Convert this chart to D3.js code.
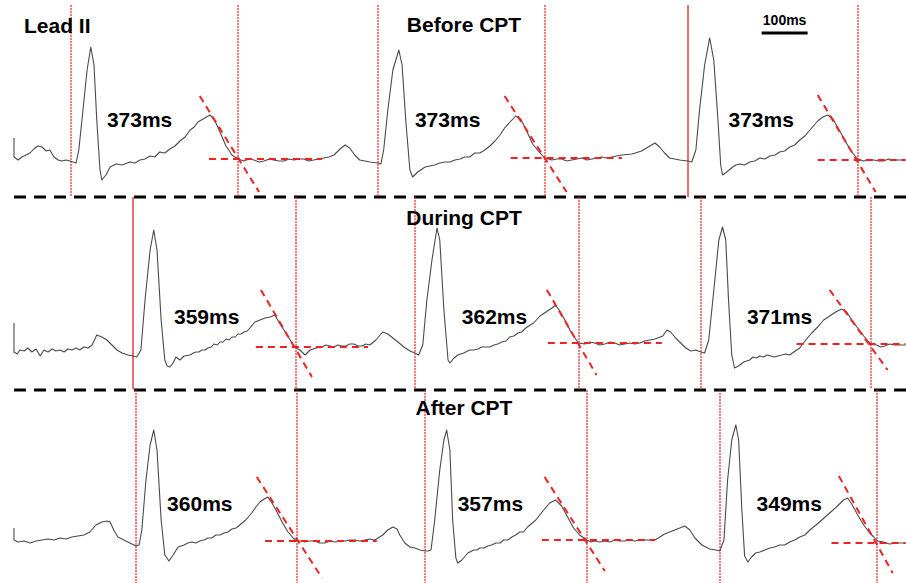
<!DOCTYPE html>
<html>
<head>
<meta charset="utf-8">
<script src="https://cdn.jsdelivr.net/npm/d3@7"></script>
<style>
  body { margin: 0; background: #fff; }
  text { font-family: "Liberation Sans", Arial, sans-serif; font-weight: bold; fill: #000; }
</style>
</head>
<body>
<div id="chart"></div>
<script>
var svgWidth = 906;
var svgHeight = 583;

// ECG traces, lead II: [time ms, amplitude mV]
var beforeTrace = [[0,0.22],[0,0.03],[9,0.00],[17,0.03],[26,0.05],[35,0.07],[43,0.11],[52,0.14],[61,0.13],[70,0.09],[78,0.10],[87,0.03],[96,0.00],[104,-0.01],[113,0.00],[122,-0.01],[128,-0.02],[135,-0.03],[141,0.10],[150,0.50],[159,0.90],[167,1.13],[174,0.95],[180,0.40],[187,-0.10],[191,-0.20],[200,-0.15],[209,-0.07],[222,-0.04],[235,-0.05],[252,-0.02],[263,-0.03],[274,0.00],[285,0.01],[296,0.04],[306,0.03],[317,0.08],[328,0.07],[339,0.11],[350,0.14],[361,0.19],[372,0.23],[383,0.30],[392,0.33],[400,0.38],[415,0.42],[426,0.45],[435,0.41],[448,0.28],[461,0.14],[474,0.05],[487,0.01],[500,-0.01],[511,0.01],[522,0.00],[533,-0.02],[544,-0.01],[555,0.01],[565,0.00],[576,-0.01],[587,-0.01],[598,0.01],[609,0.00],[620,0.01],[630,0.01],[641,-0.01],[652,0.00],[663,0.01],[674,0.02],[685,0.03],[696,0.05],[709,0.11],[720,0.15],[730,0.12],[741,0.05],[752,0.00],[763,-0.01],[774,-0.02],[791,-0.03],[798,-0.04],[804,0.10],[813,0.50],[824,0.90],[837,1.10],[844,0.95],[852,0.40],[861,-0.10],[867,-0.17],[878,-0.12],[894,-0.07],[904,-0.06],[915,-0.05],[926,-0.03],[937,-0.02],[948,-0.02],[959,0.00],[970,0.01],[980,0.03],[991,0.03],[1002,0.07],[1013,0.07],[1024,0.10],[1035,0.14],[1046,0.19],[1057,0.25],[1067,0.32],[1083,0.40],[1091,0.44],[1102,0.41],[1115,0.29],[1128,0.16],[1144,0.07],[1154,0.02],[1170,0.00],[1180,0.01],[1191,0.01],[1202,-0.01],[1213,0.00],[1224,0.01],[1235,0.02],[1246,0.00],[1257,0.01],[1268,0.02],[1278,0.03],[1289,0.02],[1300,0.03],[1311,0.04],[1322,0.05],[1344,0.06],[1365,0.09],[1383,0.14],[1394,0.17],[1404,0.13],[1415,0.07],[1426,0.02],[1437,0.01],[1448,0.00],[1465,-0.01],[1474,-0.02],[1483,0.10],[1491,0.50],[1502,0.95],[1513,1.22],[1522,1.00],[1531,0.40],[1537,-0.05],[1541,-0.15],[1550,-0.12],[1563,-0.07],[1570,-0.05],[1578,-0.04],[1589,-0.05],[1600,-0.02],[1611,-0.01],[1622,0.02],[1633,0.01],[1644,0.04],[1655,0.05],[1665,0.08],[1676,0.09],[1687,0.13],[1698,0.15],[1709,0.20],[1720,0.24],[1731,0.30],[1748,0.39],[1759,0.43],[1770,0.45],[1781,0.41],[1796,0.29],[1809,0.18],[1822,0.08],[1835,0.01],[1848,-0.01],[1859,0.00],[1870,0.00],[1880,-0.01],[1891,-0.01],[1902,0.01],[1913,0.00],[1939,0.00]];

var duringTrace = [[0,0.24],[0,-0.05],[7,-0.07],[13,-0.03],[22,-0.04],[30,-0.01],[39,-0.05],[48,-0.02],[57,-0.09],[65,-0.03],[74,-0.05],[83,-0.02],[91,-0.04],[100,-0.03],[109,-0.05],[117,-0.02],[126,-0.03],[135,-0.01],[143,-0.03],[152,0.00],[161,-0.01],[170,0.02],[180,0.12],[191,0.10],[202,0.07],[213,0.02],[224,-0.03],[235,-0.06],[248,-0.08],[259,-0.09],[267,-0.10],[276,-0.03],[285,0.47],[296,0.97],[304,1.17],[311,0.97],[320,0.27],[328,-0.13],[333,-0.19],[339,-0.20],[346,-0.16],[352,-0.10],[361,-0.13],[370,-0.09],[383,-0.08],[390,-0.06],[396,-0.05],[402,-0.05],[409,-0.03],[416,-0.03],[422,-0.01],[429,0.00],[435,0.03],[442,0.02],[448,0.05],[455,0.05],[461,0.08],[468,0.07],[474,0.10],[481,0.10],[487,0.13],[494,0.13],[500,0.15],[507,0.16],[513,0.19],[524,0.25],[535,0.27],[546,0.29],[557,0.30],[567,0.32],[576,0.25],[587,0.17],[598,0.09],[607,0.02],[613,-0.01],[622,-0.03],[633,-0.08],[644,-0.03],[657,-0.01],[670,0.00],[678,0.02],[687,0.01],[696,0.00],[704,0.02],[713,0.01],[722,0.01],[730,0.03],[739,0.03],[748,0.01],[757,0.01],[765,0.03],[774,0.02],[787,0.07],[802,0.15],[813,0.13],[824,0.09],[835,0.05],[848,0.00],[861,-0.04],[872,-0.06],[880,-0.08],[889,0.02],[898,0.47],[909,0.87],[920,1.19],[926,1.07],[935,0.37],[944,-0.13],[948,-0.16],[957,-0.11],[965,-0.08],[978,-0.06],[991,-0.03],[1000,-0.03],[1009,-0.02],[1017,0.00],[1026,0.00],[1035,0.00],[1044,0.02],[1052,0.03],[1061,0.05],[1070,0.06],[1078,0.10],[1087,0.11],[1096,0.14],[1104,0.15],[1113,0.19],[1130,0.24],[1144,0.31],[1157,0.35],[1170,0.39],[1178,0.42],[1187,0.36],[1198,0.27],[1209,0.17],[1220,0.09],[1228,0.04],[1241,0.03],[1252,0.05],[1263,0.04],[1274,0.02],[1285,0.03],[1296,0.05],[1307,0.04],[1317,0.02],[1328,0.03],[1339,0.04],[1350,0.03],[1361,0.04],[1372,0.06],[1394,0.08],[1411,0.11],[1420,0.17],[1428,0.15],[1439,0.09],[1450,0.04],[1461,-0.01],[1472,-0.04],[1483,-0.03],[1494,-0.05],[1502,-0.06],[1511,0.07],[1522,0.57],[1533,1.07],[1541,1.20],[1548,1.07],[1554,0.47],[1561,-0.08],[1567,-0.21],[1576,-0.19],[1587,-0.15],[1600,-0.13],[1607,-0.10],[1615,-0.11],[1622,-0.09],[1630,-0.10],[1638,-0.08],[1646,-0.09],[1654,-0.10],[1661,-0.09],[1670,-0.08],[1678,-0.07],[1687,-0.08],[1696,-0.05],[1709,-0.01],[1722,0.07],[1735,0.14],[1748,0.20],[1761,0.27],[1774,0.31],[1787,0.35],[1800,0.38],[1811,0.35],[1822,0.27],[1835,0.19],[1848,0.11],[1863,0.03],[1876,0.02],[1885,0.00],[1894,0.01],[1904,0.03],[1915,0.02],[1939,0.02]];

var afterTrace = [[0,0.12],[0,0.00],[9,-0.02],[22,-0.01],[35,-0.03],[48,-0.01],[61,0.00],[74,0.01],[87,0.00],[100,0.02],[113,0.01],[126,0.03],[139,0.04],[152,0.05],[165,0.08],[178,0.15],[191,0.18],[202,0.19],[209,0.18],[217,0.10],[226,0.03],[239,0.00],[252,-0.03],[265,-0.06],[272,-0.05],[278,0.10],[287,0.60],[296,0.95],[304,1.10],[311,0.90],[320,0.20],[328,-0.15],[337,-0.21],[346,-0.15],[357,-0.07],[370,-0.05],[378,-0.03],[387,-0.02],[396,-0.03],[404,-0.01],[413,0.00],[422,0.02],[430,0.02],[439,0.05],[448,0.05],[457,0.07],[465,0.08],[474,0.11],[483,0.12],[491,0.15],[504,0.20],[517,0.27],[526,0.33],[535,0.38],[544,0.41],[552,0.43],[561,0.37],[572,0.28],[583,0.18],[596,0.08],[607,0.02],[615,-0.01],[624,-0.01],[633,-0.02],[643,-0.01],[654,-0.01],[665,-0.03],[676,-0.03],[687,-0.01],[698,-0.02],[709,-0.01],[720,-0.01],[730,0.00],[741,0.00],[752,-0.01],[763,0.00],[774,0.01],[785,0.00],[802,0.05],[813,0.10],[824,0.13],[833,0.11],[839,0.05],[850,-0.03],[861,-0.07],[872,-0.08],[883,-0.10],[894,-0.11],[900,-0.11],[907,-0.10],[915,0.20],[926,0.70],[935,1.00],[941,1.10],[948,0.90],[954,0.20],[961,-0.18],[965,-0.23],[974,-0.20],[987,-0.13],[1000,-0.10],[1007,-0.10],[1013,-0.08],[1022,-0.08],[1030,-0.06],[1039,-0.05],[1048,-0.03],[1057,-0.03],[1065,0.00],[1074,0.00],[1083,0.03],[1091,0.05],[1100,0.08],[1108,0.08],[1117,0.13],[1135,0.20],[1152,0.30],[1165,0.37],[1178,0.40],[1191,0.34],[1204,0.23],[1217,0.12],[1230,0.05],[1246,0.00],[1254,-0.02],[1263,-0.01],[1274,-0.02],[1285,-0.01],[1296,-0.02],[1307,0.00],[1317,-0.01],[1328,-0.01],[1339,0.00],[1350,-0.01],[1361,0.00],[1372,0.00],[1394,0.00],[1415,0.06],[1437,0.10],[1459,0.14],[1470,0.10],[1481,0.02],[1496,-0.05],[1513,-0.09],[1526,-0.10],[1535,-0.11],[1544,0.00],[1552,0.60],[1561,1.00],[1570,1.15],[1576,1.00],[1583,0.30],[1589,-0.16],[1596,-0.22],[1604,-0.17],[1613,-0.13],[1622,-0.12],[1633,-0.10],[1644,-0.08],[1654,-0.07],[1665,-0.05],[1676,-0.05],[1687,-0.02],[1698,0.00],[1709,0.03],[1720,0.05],[1731,0.10],[1752,0.18],[1774,0.27],[1791,0.34],[1804,0.40],[1813,0.42],[1822,0.36],[1835,0.25],[1848,0.15],[1861,0.07],[1870,0.03],[1878,-0.01],[1891,-0.02],[1904,-0.04],[1922,-0.03],[1939,-0.03]];

// Q onset / T end markers (ms)
var beforeMarks = [124, 487, 791, 1154, 1465, 1835];
var duringMarks = [259, 613, 872, 1228, 1494, 1863];
var afterMarks = [265, 615, 894, 1246, 1535, 1878];
var beforeMarkStyle = ["dot", "dot", "dot", "dot", "solid", "dot"];
var duringMarkStyle = ["solid", "dot", "dot", "dot", "dot", "dot"];
var afterMarkStyle = ["dot", "dot", "dot", "dot", "dot", "dot"];

// T-wave tangent [t1, v1, t2, v2] and isoelectric line [t1, t2, v]
var beforeTangents = [[404,0.64,533,-0.32],[1067,0.64,1202,-0.32],[1748,0.65,1874,-0.32]];
var duringTangents = [[537,0.57,648,-0.30],[1159,0.57,1267,-0.28],[1774,0.57,1900,-0.23]];
var afterTangents = [[528,0.63,670,-0.38],[1154,0.63,1285,-0.31],[1794,0.64,1911,-0.33]];
var beforeBaselines = [[424,670,0.01],[1080,1322,0.02],[1748,1939,0.00]];
var duringBaselines = [[526,770,0.00],[1161,1409,0.04],[1702,1939,0.03]];
var afterBaselines = [[546,789,-0.01],[1148,1394,0.00],[1778,1939,-0.03]];

// QT intervals and label anchor [t, v]
var beforeQT = [373, 373, 373];
var duringQT = [359, 362, 371];
var afterQT = [360, 357, 349];
var beforeQTpos = [[202,0.33],[872,0.33],[1554,0.33]];
var duringQTpos = [[348,0.23],[974,0.23],[1594,0.23]];
var afterQTpos = [[333,0.29],[965,0.29],[1615,0.29]];

var scaleBarStart = 1626;
var scaleBarMs = 100;

var svg = d3.select("#chart")
  .append("svg")
  .attr("width", svgWidth)
  .attr("height", svgHeight);

var xScale = d3.scaleLinear().domain([0, 1940]).range([14, 906]);

var rows = [
  {title: "Before CPT", titleY: 32, base: 160, top: 5, bottom: 197, trace: beforeTrace, marks: beforeMarks, markStyle: beforeMarkStyle, tangents: beforeTangents, baselines: beforeBaselines, qt: beforeQT, qtPos: beforeQTpos},
  {title: "During CPT", titleY: 225, base: 347, top: 197, bottom: 389, trace: duringTrace, marks: duringMarks, markStyle: duringMarkStyle, tangents: duringTangents, baselines: duringBaselines, qt: duringQT, qtPos: duringQTpos},
  {title: "After CPT", titleY: 415, base: 540, top: 390, bottom: 583, trace: afterTrace, marks: afterMarks, markStyle: afterMarkStyle, tangents: afterTangents, baselines: afterBaselines, qt: afterQT, qtPos: afterQTpos}
];

// separators between panels
[197, 390].forEach(function(yy) {
  svg.append("line")
    .attr("x1", 14).attr("x2", 906)
    .attr("y1", yy).attr("y2", yy)
    .attr("stroke", "#000")
    .attr("stroke-width", 3)
    .attr("stroke-dasharray", "12,8");
});

rows.forEach(function(row) {
  var yScale = d3.scaleLinear().domain([0, 1]).range([row.base, row.base - 100]);
  var g = svg.append("g");

  // Q onset / T end markers (on a pixel edge so the red spreads over two columns)
  g.selectAll(".mark")
    .data(row.marks)
    .enter()
    .append("line")
    .attr("x1", d => Math.round(xScale(d)))
    .attr("x2", d => Math.round(xScale(d)))
    .attr("y1", row.top)
    .attr("y2", row.bottom)
    .attr("stroke", (d, i) => row.markStyle[i] === "solid" ? "#e01818" : "#f52020")
    .attr("stroke-width", (d, i) => row.markStyle[i] === "solid" ? 1.25 : 1.2)
    .attr("stroke-dasharray", (d, i) => row.markStyle[i] === "solid" ? null : "2,1");

  // ecg trace
  var line = d3.line()
    .x(d => xScale(d[0]))
    .y(d => yScale(d[1]));

  g.append("path")
    .datum(row.trace)
    .attr("d", line)
    .attr("fill", "none")
    .attr("stroke", "#4a4a4a")
    .attr("stroke-width", 1.1)
    .attr("stroke-linejoin", "round");

  // tangent + isoelectric dashes
  g.selectAll(".tan")
    .data(row.tangents)
    .enter()
    .append("line")
    .attr("x1", d => xScale(d[0]))
    .attr("y1", d => yScale(d[1]))
    .attr("x2", d => xScale(d[2]))
    .attr("y2", d => yScale(d[3]))
    .attr("stroke", "#ee2222")
    .attr("stroke-width", 2)
    .attr("stroke-dasharray", "7,5");

  g.selectAll(".iso")
    .data(row.baselines)
    .enter()
    .append("line")
    .attr("x1", d => xScale(d[0]))
    .attr("x2", d => xScale(d[1]))
    .attr("y1", d => yScale(d[2]))
    .attr("y2", d => yScale(d[2]))
    .attr("stroke", "#ee2222")
    .attr("stroke-width", 2)
    .attr("stroke-dasharray", "7,5");

  // QT labels
  g.selectAll(".qt")
    .data(row.qt)
    .enter()
    .append("text")
    .attr("x", (d, i) => xScale(row.qtPos[i][0]))
    .attr("y", (d, i) => yScale(row.qtPos[i][1]))
    .attr("font-size", "21px")
    .text(d => d + "ms");

  g.append("text")
    .attr("x", 464)
    .attr("y", row.titleY)
    .attr("text-anchor", "middle")
    .attr("font-size", "21px")
    .text(row.title);
});

svg.append("text")
  .attr("x", 24)
  .attr("y", 33)
  .attr("font-size", "21px")
  .text("Lead II");

// 100 ms scale bar
svg.append("line")
  .attr("x1", xScale(scaleBarStart))
  .attr("x2", xScale(scaleBarStart + scaleBarMs))
  .attr("y1", 33).attr("y2", 33)
  .attr("stroke", "#000")
  .attr("stroke-width", 3);

svg.append("text")
  .attr("x", (xScale(scaleBarStart) + xScale(scaleBarStart + scaleBarMs)) / 2)
  .attr("y", 25)
  .attr("text-anchor", "middle")
  .attr("font-size", "14px")
  .text(scaleBarMs + "ms");
</script>
</body>
</html>
